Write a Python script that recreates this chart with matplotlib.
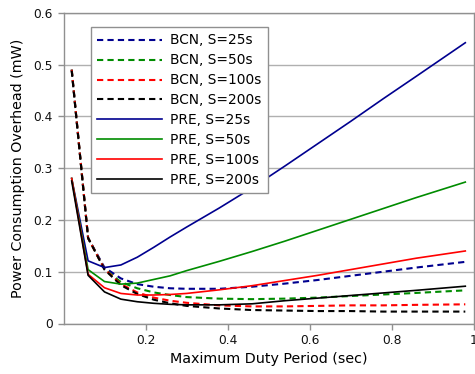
import matplotlib
matplotlib.use("Agg")
import matplotlib.pyplot as plt
import numpy as np

# duty period samples (sec)
duty = [0.02, 0.06, 0.10, 0.14, 0.18, 0.22, 0.26, 0.30, 0.38, 0.46, 0.54, 0.62, 0.70, 0.78, 0.86, 0.98]

# BCN overhead (mW)
bcn_25 = [0.490, 0.165, 0.108, 0.087, 0.076, 0.071, 0.068, 0.067, 0.067, 0.071, 0.077, 0.084, 0.092, 0.100, 0.108, 0.119]
bcn_50 = [0.490, 0.165, 0.105, 0.080, 0.068, 0.060, 0.055, 0.051, 0.048, 0.047, 0.048, 0.050, 0.053, 0.056, 0.059, 0.064]
bcn_100 = [0.490, 0.165, 0.105, 0.076, 0.060, 0.050, 0.044, 0.040, 0.035, 0.033, 0.033, 0.034, 0.035, 0.035, 0.036, 0.037]
bcn_200 = [0.488, 0.165, 0.104, 0.074, 0.057, 0.046, 0.039, 0.034, 0.029, 0.026, 0.025, 0.024, 0.024, 0.023, 0.023, 0.023]

# PRE overhead (mW)
pre_25 = [0.280, 0.121, 0.108, 0.113, 0.128, 0.147, 0.167, 0.186, 0.223, 0.262, 0.304, 0.347, 0.390, 0.434, 0.477, 0.542]
pre_50 = [0.280, 0.104, 0.081, 0.076, 0.078, 0.085, 0.092, 0.102, 0.120, 0.139, 0.159, 0.180, 0.201, 0.222, 0.243, 0.273]
pre_100 = [0.280, 0.095, 0.069, 0.058, 0.055, 0.055, 0.056, 0.058, 0.065, 0.073, 0.083, 0.093, 0.104, 0.115, 0.126, 0.140]
pre_200 = [0.275, 0.093, 0.061, 0.047, 0.042, 0.039, 0.037, 0.036, 0.036, 0.038, 0.044, 0.049, 0.054, 0.059, 0.064, 0.072]

labels_bcn = ["BCN, S=25s", "BCN, S=50s", "BCN, S=100s", "BCN, S=200s"]
labels_pre = ["PRE, S=25s", "PRE, S=50s", "PRE, S=100s", "PRE, S=200s"]
colors = ["#00008f", "#008c00", "#ff0000", "#000000"]

plt.rcParams['font.family'] = ['DejaVu Sans']

fig = plt.figure(figsize=(4.75, 3.74), dpi=100)
ax = fig.add_axes([63.5 / 475, 50.5 / 374, 410 / 475, 310.8 / 374])

for ys, lab, c in zip([bcn_25, bcn_50, bcn_100, bcn_200], labels_bcn, colors):
    ax.plot(duty, ys, color=c, lw=1.5, ls=(0, (3, 2.0)), label=lab)
for ys, lab, c in zip([pre_25, pre_50, pre_100, pre_200], labels_pre, colors):
    ax.plot(duty, ys, color=c, lw=1.2, label=lab)

ax.set_xlim(0, 1)
ax.set_ylim(0, 0.6)
ax.set_xticks([0.2, 0.4, 0.6, 0.8, 1.0])
ax.set_xticklabels(["0.2", "0.4", "0.6", "0.8", "1"])
ax.set_yticks([0, 0.1, 0.2, 0.3, 0.4, 0.5, 0.6])
ax.set_yticklabels(["0", "0.1", "0.2", "0.3", "0.4", "0.5", "0.6"])
ax.grid(axis='y', color='#b0b0b0', lw=1.0)
ax.set_axisbelow(True)
for s in ax.spines.values():
    s.set_color('#909090')
    s.set_linewidth(1.0)
ax.tick_params(colors='#909090', labelcolor='#111111', labelsize=8.8, length=4, width=1.0)

ax.set_xlabel("Maximum Duty Period (sec)", fontsize=10.3, labelpad=4)
ax.set_ylabel("Power Consumption Overhead (mW)", fontsize=10.3, labelpad=6)

leg = ax.legend(loc='upper left', bbox_to_anchor=(0.067, 0.953), fontsize=9.9,
                frameon=True, fancybox=False, edgecolor='#909090', framealpha=1,
                handlelength=4.7, handletextpad=0.6, labelspacing=0.43,
                borderpad=0.45, borderaxespad=0)
leg.get_frame().set_linewidth(1.0)

fig.savefig("out.png", dpi=100)
